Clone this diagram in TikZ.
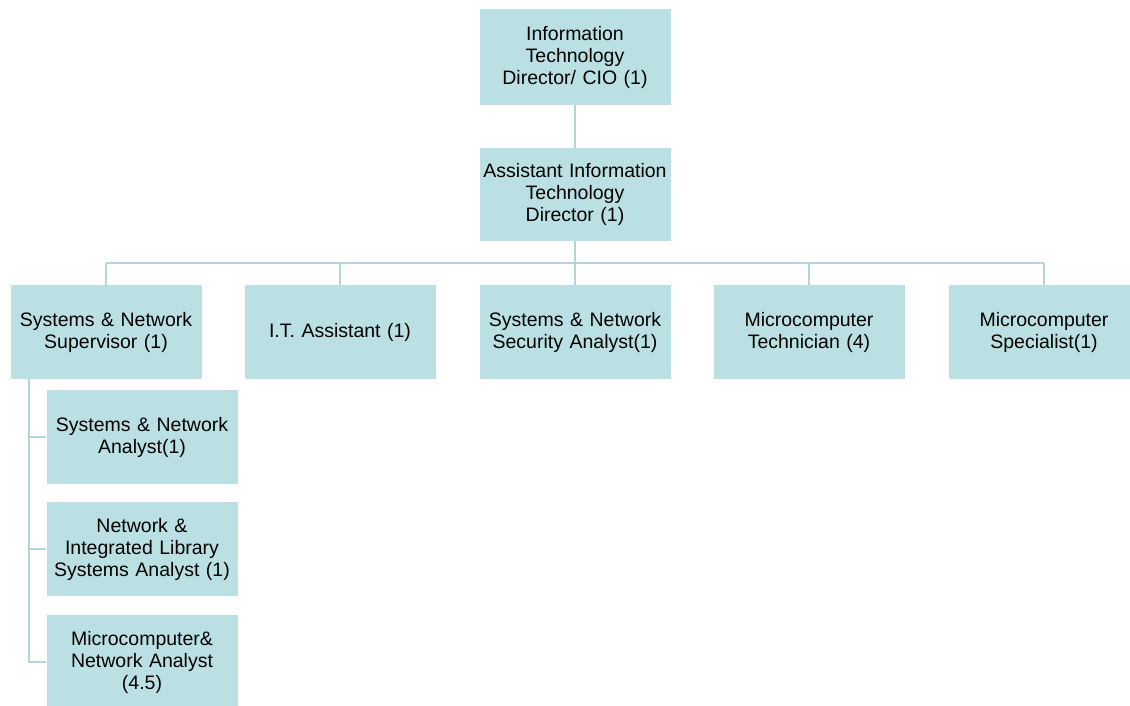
\documentclass[tikz,border=0pt]{standalone}
\usepackage{fontspec}
\setmainfont{Liberation Sans}
\definecolor{boxfill}{RGB}{186,224,227}
\definecolor{linec}{RGB}{178,214,217}
\begin{document}
\begin{tikzpicture}[x=1pt,y=-1pt,
  box/.style={draw=none,fill=boxfill,minimum width=191pt,minimum height=94pt,
    text width=190pt,align=center,inner sep=0pt,
    font=\fontsize{19.5}{22}\selectfont},
  conn/.style={draw=linec,line width=2pt}]
\useasboundingbox (0,0) rectangle (1130,706);
\clip (0,0) rectangle (1130,706);
\node[box,minimum height=96pt] (top) at (575,57) {Information\\Technology\\Director/ CIO (1)};
\node[box,minimum height=93pt] (asst) at (575,194.5) {Assistant Information\\Technology\\Director (1)};
\node[box] (n1) at (106,332) {Systems \& Network\\Supervisor (1)};
\node[box] (n2) at (340,332) {I.T. Assistant (1)};
\node[box] (n3) at (575,332) {Systems \& Network\\Security Analyst(1)};
\node[box] (n4) at (809,332) {Microcomputer\\Technician (4)};
\node[box] (n5) at (1044,332) {Microcomputer\\Specialist(1)};
\node[box] (s1) at (142,437) {Systems \& Network\\Analyst(1)};
\node[box] (s2) at (142,549) {Network \&\\Integrated Library\\Systems Analyst (1)};
\node[box] (s3) at (142,662) {Microcomputer\&\\Network Analyst\\(4.5)};
\coordinate (bus) at (0,263);
\coordinate (spine) at (29,0);
\draw[conn] (top.south) -- (asst.north);
\draw[conn] (asst.south) -- (asst.south |- bus);
\draw[conn] (n1.north |- bus) -- (n5.north |- bus);
\foreach \n in {n1,n2,n3,n4,n5}{
  \draw[conn] (\n.north) -- (\n.north |- bus);
}
\draw[conn] (spine |- n1.south) -- (spine |- s3.west) -- (s3.west);
\draw[conn] (spine |- s1.west) -- (s1.west);
\draw[conn] (spine |- s2.west) -- (s2.west);
\end{tikzpicture}
\end{document}
